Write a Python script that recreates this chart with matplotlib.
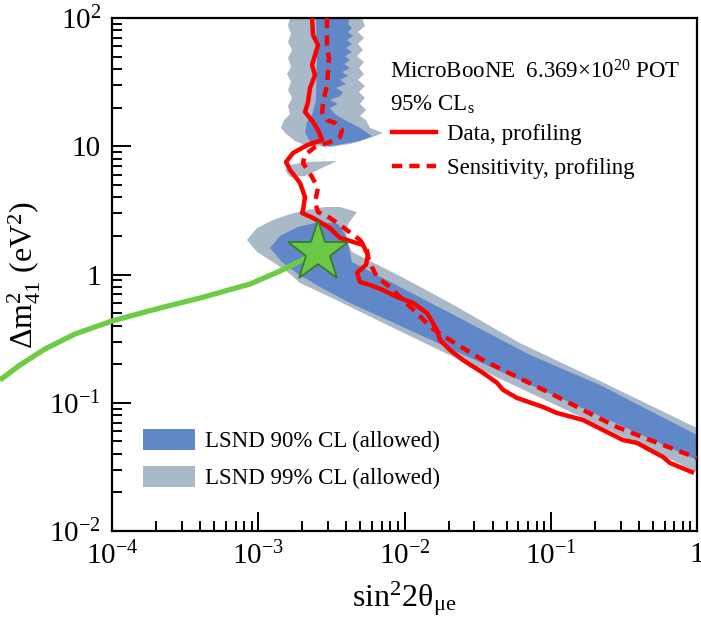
import matplotlib
matplotlib.use("Agg")
import matplotlib.pyplot as plt
from matplotlib.patches import Patch
from matplotlib.lines import Line2D
from matplotlib.ticker import FixedLocator, FixedFormatter, LogLocator, NullFormatter

plt.rcParams['font.family'] = ['Liberation Serif', 'DejaVu Serif']
plt.rcParams['mathtext.fontset'] = 'custom'
plt.rcParams['mathtext.rm'] = 'Liberation Serif'
plt.rcParams['mathtext.it'] = 'Liberation Serif:italic'
plt.rcParams['mathtext.default'] = 'regular'

# ---- LSND 99% CL allowed region (main band with low-mass tip) ----
lsnd99_band_x = [8.37e-4, 9.80e-4, 1.262e-3, 1.649e-3, 2.154e-3, 2.860e-3, 3.622e-3, 4.733e-3,
                 4.108e-3, 3.98e-3, 4.375e-3, 9.31e-3, 2.047e-2, 6.160e-2, 0.2172, 1.0, 1.227,
                 1.227, 1.0, 0.2172, 6.160e-2, 1.833e-2, 7.129e-3, 3.094e-3, 1.930e-3, 1.649e-3,
                 1.262e-3, 9.80e-4]
lsnd99_band_y = [1.86, 2.30, 2.66, 2.96, 3.18, 3.36, 3.36, 3.07,
                 2.48, 1.86, 1.50, 0.973, 0.600, 0.292, 0.1478, 0.0635, 0.0571,
                 0.0259, 0.0288, 0.0659, 0.130, 0.249, 0.419, 0.668, 0.858, 1.01,
                 1.25, 1.50]

# ---- LSND 99% CL high-mass column ----
lsnd99_col_x = [1.649e-3, 1.598e-3, 1.675e-3, 1.598e-3, 1.702e-3, 1.598e-3, 1.675e-3, 1.573e-3,
                1.675e-3, 1.598e-3, 1.702e-3, 1.598e-3, 1.649e-3, 1.500e-3, 1.430e-3, 1.548e-3,
                1.784e-3, 2.088e-3, 3.094e-3, 4.240e-3, 5.808e-3, 7.129e-3,
                5.808e-3, 5.455e-3, 4.961e-3, 5.455e-3, 4.961e-3, 5.369e-3, 4.884e-3, 5.369e-3,
                4.809e-3, 5.285e-3, 4.884e-3, 5.285e-3, 4.733e-3, 5.203e-3, 4.809e-3, 5.285e-3,
                4.809e-3, 5.369e-3, 5.122e-3]
lsnd99_col_y = [100, 86.6, 75.0, 65.0, 56.3, 48.8, 41.5, 36.6,
                31.7, 27.5, 23.8, 20.6, 17.8, 16.0, 13.9, 12.5,
                10.99, 10.2, 9.87, 10.4, 11.6, 12.7,
                13.9, 16.0, 17.2, 19.2, 21.4, 23.8, 26.5, 29.5,
                32.9, 36.6, 40.7, 45.4, 50.5, 56.3, 62.7, 69.8,
                77.8, 86.6, 100]

# ---- LSND 99% CL island ----
lsnd99_isl_x = [1.524e-3, 1.649e-3, 2.088e-3, 3.454e-3, 2.728e-3, 2.088e-3, 1.649e-3]
lsnd99_isl_y = [6.53, 7.14, 7.54, 7.67, 6.77, 5.86, 5.76]

# ---- LSND 90% CL allowed region (main band) ----
lsnd90_band_x = [1.203e-3, 1.408e-3, 1.870e-3, 2.643e-3, 3.509e-3, 4.044e-3, 4.375e-3, 2.047e-2,
                 7.211e-2, 0.2172, 1.0, 1.227, 1.227, 1.0, 0.2172, 6.160e-2, 1.748e-2,
                 4.240e-3, 2.643e-3, 1.870e-3, 1.453e-3]
lsnd90_band_y = [1.61, 2.00, 2.35, 2.57, 2.48, 1.93, 1.25, 0.501,
                 0.236, 0.1375, 0.0560, 0.0503, 0.0321, 0.0358, 0.0788, 0.150, 0.287,
                 0.600, 0.799, 1.01, 1.25]

# ---- LSND 90% CL high-mass column ----
lsnd90_col_x = [2.482e-3, 2.521e-3, 2.482e-3, 2.331e-3, 2.154e-3, 2.088e-3, 2.259e-3, 3.094e-3,
                4.961e-3, 5.995e-3, 4.961e-3, 3.919e-3, 3.347e-3, 3.094e-3, 3.509e-3, 3.094e-3,
                3.622e-3, 3.797e-3, 3.400e-3, 3.98e-3, 3.622e-3, 4.108e-3, 3.737e-3, 4.240e-3,
                3.858e-3, 4.240e-3, 3.919e-3, 4.375e-3, 3.98e-3, 4.375e-3, 4.044e-3, 4.444e-3,
                4.108e-3, 4.375e-3, 4.108e-3, 4.240e-3]
lsnd90_col_y = [100, 47.0, 22.9, 17.5, 15.5, 12.9, 10.8, 10.0,
                10.99, 12.0, 13.9, 16.0, 17.8, 19.9, 21.4, 22.9,
                24.6, 26.5, 28.5, 30.6, 32.9, 35.3, 37.9, 40.7,
                43.8, 47.0, 50.5, 54.3, 58.4, 62.7, 67.4, 72.4,
                77.8, 83.6, 89.8, 100]

# ---- MicroBooNE 95% CLs exclusion contours ----
data_x = [2.331e-3, 2.368e-3, 2.561e-3, 2.443e-3, 2.331e-3, 2.443e-3, 2.259e-3, 2.189e-3,
          2.088e-3, 2.368e-3, 2.561e-3, 2.728e-3, 2.154e-3, 1.729e-3, 1.548e-3, 1.649e-3,
          1.930e-3, 2.088e-3, 2.023e-3, 1.991e-3, 2.368e-3, 3.094e-3, 3.622e-3, 5.203e-3,
          5.628e-3, 5.455e-3, 4.733e-3, 4.961e-3, 5.808e-3, 7.129e-3, 8.886e-3, 1.143e-2,
          1.425e-2, 1.668e-2, 1.748e-2, 2.047e-2, 2.512e-2, 3.441e-2, 4.290e-2, 4.716e-2,
          5.875e-2, 8.851e-2, 0.1103, 0.1661, 0.2277, 0.3119, 0.3888, 0.4771,
          0.5855, 0.6537, 0.924]
data_y = [100, 73.7, 61.6, 51.4, 43.0, 35.9, 28.5, 22.1,
          18.5, 15.5, 13.4, 11.2, 10.2, 8.86, 7.54, 6.53,
          5.17, 4.02, 3.18, 3.02, 2.76, 2.30, 1.93, 1.70,
          1.42, 1.19, 1.03, 0.874, 0.828, 0.757, 0.668, 0.600,
          0.501, 0.369, 0.308, 0.258, 0.215, 0.171, 0.143, 0.126,
          0.109, 0.0927, 0.0832, 0.0734, 0.0613, 0.0512, 0.0486, 0.0428,
          0.0378, 0.0339, 0.0288]

sens_x = [2.952e-3, 2.952e-3, 3.047e-3, 2.998e-3, 2.952e-3, 2.815e-3, 2.728e-3, 2.952e-3,
          3.347e-3, 3.737e-3, 3.622e-3, 3.094e-3, 2.443e-3, 2.088e-3, 2.023e-3, 2.331e-3,
          2.561e-3, 2.443e-3, 2.561e-3, 3.094e-3, 4.044e-3, 4.961e-3, 5.541e-3, 5.628e-3,
          5.995e-3, 6.486e-3, 7.960e-3, 9.765e-3, 1.218e-2, 1.494e-2, 2.047e-2, 3.441e-2,
          5.875e-2, 9.883e-2, 0.1661, 0.2838, 0.4771, 1.0]
sens_y = [100, 58.4, 48.8, 37.9, 30.0, 23.8, 18.5, 16.0,
          15.2, 13.4, 11.8, 10.8, 9.87, 8.55, 7.40, 5.76,
          4.73, 3.67, 3.07, 2.76, 2.22, 1.86, 1.55, 1.37,
          1.14, 0.956, 0.799, 0.632, 0.501, 0.390, 0.308, 0.215,
          0.159, 0.119, 0.0878, 0.0647, 0.0512, 0.0371]

# ---- best-fit marker and its pointer ----
star_x, star_y = 2.56e-3, 1.50
pointer_x = [1.71e-5, 2.35e-5, 3.48e-5, 5.58e-5, 1.0e-4, 2.13e-4, 4.0e-4, 8.79e-4,
             1.41e-3, 1.93e-3, 2.56e-3]
pointer_y = [0.150, 0.197, 0.2625, 0.3436, 0.434, 0.548, 0.656, 0.843,
             1.065, 1.274, 1.50]

xticks = [1e-4, 1e-3, 1e-2, 1e-1, 1]
xticklabels = ['$10^{-4}$', '$10^{-3}$', '$10^{-2}$', '$10^{-1}$', '1']
yticks = [1e-2, 1e-1, 1, 10, 100]
yticklabels = ['$10^{-2}$', '$10^{-1}$', '1', '10', '$10^{2}$']

C99 = '#a9b9c7'
C90 = '#6088c8'
RED = '#ff0000'
DASH = (0, (2.3, 1.6))

fig = plt.figure(figsize=(7.01, 6.17), dpi=100)
ax = fig.add_axes([0.1598, 0.1394, 0.8345, 0.8314])
ax.set_xscale('log')
ax.set_yscale('log')
ax.set_xlim(1e-4, 1)
ax.set_ylim(1e-2, 1e2)

ax.fill(lsnd99_band_x, lsnd99_band_y, color=C99, lw=0, zorder=1)
ax.fill(lsnd99_col_x, lsnd99_col_y, color=C99, lw=0, zorder=1)
ax.fill(lsnd99_isl_x, lsnd99_isl_y, color=C99, lw=0, zorder=1)
ax.fill(lsnd90_band_x, lsnd90_band_y, color=C90, lw=0, zorder=2)
ax.fill(lsnd90_col_x, lsnd90_col_y, color=C90, lw=0, zorder=2)

ax.plot(data_x, data_y, color=RED, lw=3.2, zorder=4, solid_joinstyle='round')
ax.plot(sens_x, sens_y, color=RED, lw=3.2, ls=DASH, zorder=4)

ax.plot(pointer_x, pointer_y, color='#6ccc45', lw=3.8, zorder=5, clip_on=False,
        solid_capstyle='butt', solid_joinstyle='round')
ax.plot([star_x], [star_y], marker='*', ms=46, mfc='#6cc947', mec='#3b7d22',
        mew=1.3, zorder=6, clip_on=False)

ax.xaxis.set_major_locator(FixedLocator(xticks))
ax.xaxis.set_major_formatter(FixedFormatter(xticklabels))
ax.yaxis.set_major_locator(FixedLocator(yticks))
ax.yaxis.set_major_formatter(FixedFormatter(yticklabels))
ax.xaxis.set_minor_locator(LogLocator(base=10, subs=range(2, 10)))
ax.yaxis.set_minor_locator(LogLocator(base=10, subs=range(2, 10)))
ax.xaxis.set_minor_formatter(NullFormatter())
ax.yaxis.set_minor_formatter(NullFormatter())
ax.tick_params(which='both', direction='in', top=False, right=False, width=1.4,
               labelsize=21, colors='black')
ax.tick_params(which='major', length=14, pad=8)
ax.tick_params(which='minor', length=7)
for s in ax.spines.values():
    s.set_linewidth(1.6)

ax.set_xlabel(r'$\mathrm{sin^{2}2\theta_{\mu e}}$', fontsize=23, labelpad=6)
ax.set_ylabel(r'$\Delta\mathrm{m^{2}_{41}\ (eV^{2})}$', fontsize=23, labelpad=4)

ax.text(0.475, 0.895, r'MicroBooNE  6.369$\times$10$^{20}$ POT', transform=ax.transAxes,
        fontsize=16.5, va='center', ha='left')
ax.text(0.475, 0.830, r'95% CL$_{s}$', transform=ax.transAxes,
        fontsize=16.5, va='center', ha='left')

red_handles = [Line2D([], [], color=RED, lw=3.2),
               Line2D([], [], color=RED, lw=3.2, ls=DASH)]
leg1 = ax.legend(red_handles, ['Data, profiling', 'Sensitivity, profiling'],
                 loc='upper left', bbox_to_anchor=(0.478, 0.793), frameon=False,
                 fontsize=16.5, handlelength=1.95, handletextpad=0.45,
                 labelspacing=0.56, borderpad=0, borderaxespad=0)
ax.add_artist(leg1)

lsnd_handles = [Patch(facecolor=C90, edgecolor='none'), Patch(facecolor=C99, edgecolor='none')]
ax.legend(lsnd_handles, ['LSND 90% CL (allowed)', 'LSND 99% CL (allowed)'],
          loc='upper left', bbox_to_anchor=(0.053, 0.199), frameon=False,
          fontsize=16.5, handlelength=2.27, handleheight=1.05, handletextpad=0.45,
          labelspacing=0.58, borderpad=0, borderaxespad=0)

fig.savefig('out.png', dpi=100)
